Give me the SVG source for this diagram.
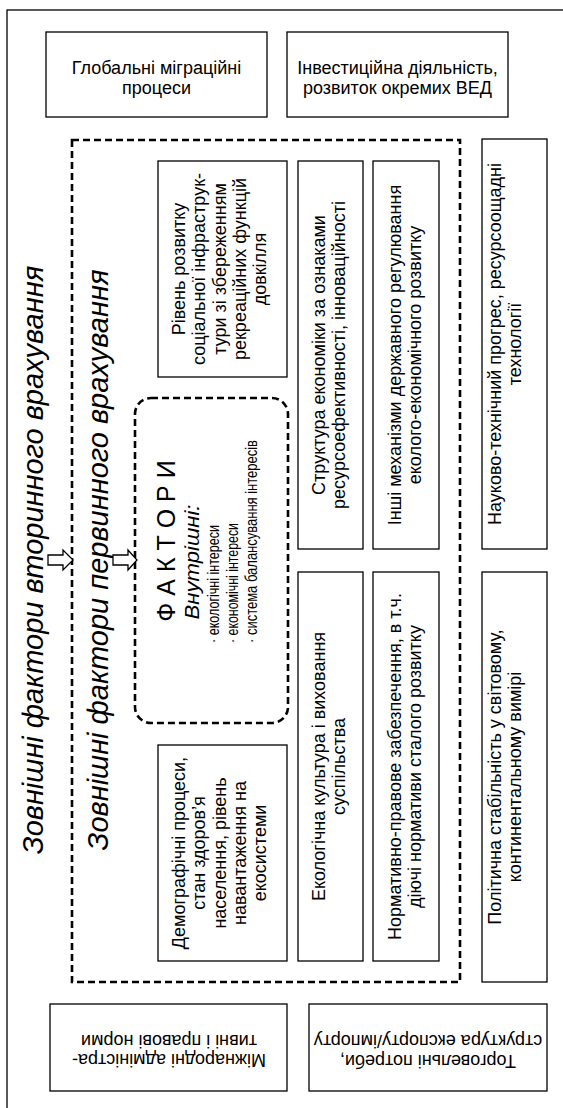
<svg xmlns="http://www.w3.org/2000/svg" width="563" height="1108" viewBox="0 0 563 1108">
<style>
.frame{fill:none;stroke:#000;stroke-width:1.3}
.box{fill:#fff;stroke:#000;stroke-width:1.3}
.dash{fill:none;stroke:#000;stroke-width:2.6;stroke-dasharray:7 4}
.t{font-family:"Liberation Sans",Arial,sans-serif;font-size:18px;fill:#000;text-anchor:middle}
.big{font-family:"Liberation Sans",Arial,sans-serif;font-size:29px;font-style:italic;fill:#000;text-anchor:middle}
.fk{font-family:"Liberation Sans",Arial,sans-serif;font-size:25px;fill:#000;text-anchor:middle}
.vn{font-family:"Liberation Sans Narrow","Liberation Sans",Arial,sans-serif;font-size:21px;font-style:italic;fill:#000;text-anchor:middle}
.bl{font-family:"Liberation Sans Narrow","Liberation Sans",Arial,sans-serif;font-size:17px;fill:#000;text-anchor:start}
.arr{fill:#fff;stroke:#000;stroke-width:1.3}
</style>
<rect width="563" height="1108" fill="#fff"/>
<rect class="frame" x="7" y="10" width="620" height="1200"/>

<g id="title-secondary">
<text class="big" transform="translate(43,560) rotate(-90)">Зовнішні фактори вторинного врахування</text>
</g>
<g id="title-primary">
<rect class="dash" x="72" y="140" width="388" height="842"/>
<text class="big" transform="translate(108,560) rotate(-90)">Зовнішні фактори первинного врахування</text>
</g>

<g id="global-migration">
<rect class="box" x="46" y="32" width="221" height="85"/>
<text class="t" x="156.5" y="74">Глобальні міграційні</text>
<text class="t" x="156.5" y="94">процеси</text>
</g>
<g id="investment">
<rect class="box" x="287" y="32" width="221" height="85"/>
<text class="t" x="397.5" y="74">Інвестиційна діяльність,</text>
<text class="t" x="397.5" y="94">розвиток окремих ВЕД</text>
</g>

<g id="factors">
<rect class="dash" x="135" y="398" width="153" height="325" rx="16"/>
<text class="fk" transform="translate(175,541) rotate(-90)">Ф А К Т О Р И</text>
<text class="vn" transform="translate(199,562) rotate(-90)" textLength="115" lengthAdjust="spacingAndGlyphs">Внутрішні:</text>
<text class="bl" transform="translate(219,643) rotate(-90)" textLength="118" lengthAdjust="spacingAndGlyphs">· екологічні інтереси</text>
<text class="bl" transform="translate(238,643) rotate(-90)" textLength="120" lengthAdjust="spacingAndGlyphs">· економічні інтереси</text>
<text class="bl" transform="translate(257,643) rotate(-90)" textLength="203" lengthAdjust="spacingAndGlyphs">· система балансування інтересів</text>
</g>

<g id="social-infrastructure">
<rect class="box" x="158" y="161" width="129" height="216"/>
<text class="t" transform="translate(185,269) rotate(-90)">Рівень розвитку</text>
<text class="t" transform="translate(205,269) rotate(-90)">соціальної інфраструк-</text>
<text class="t" transform="translate(226,269) rotate(-90)">тури зі збереженням</text>
<text class="t" transform="translate(246,269) rotate(-90)">рекреаційних функцій</text>
<text class="t" transform="translate(266,269) rotate(-90)">довкілля</text>
</g>
<g id="demography">
<rect class="box" x="158" y="745" width="129" height="216"/>
<text class="t" transform="translate(185,853) rotate(-90)">Демографічні процеси,</text>
<text class="t" transform="translate(205,853) rotate(-90)">стан здоров’я</text>
<text class="t" transform="translate(226,853) rotate(-90)">населення, рівень</text>
<text class="t" transform="translate(246,853) rotate(-90)">навантаження на</text>
<text class="t" transform="translate(266,853) rotate(-90)">екосистеми</text>
</g>

<g id="economy-structure">
<rect class="box" x="298" y="161" width="65" height="388"/>
<text class="t" transform="translate(325,355) rotate(-90)">Структура економіки за ознаками</text>
<text class="t" transform="translate(345,355) rotate(-90)">ресурсоефективності, інноваційності</text>
</g>
<g id="eco-culture">
<rect class="box" x="298" y="572" width="65" height="389"/>
<text class="t" transform="translate(325,766.5) rotate(-90)">Екологічна культура і виховання</text>
<text class="t" transform="translate(345,766.5) rotate(-90)">суспільства</text>
</g>
<g id="state-regulation">
<rect class="box" x="373" y="161" width="66" height="388"/>
<text class="t" transform="translate(401,355) rotate(-90)">Інші механізми державного регулювання</text>
<text class="t" transform="translate(421,355) rotate(-90)">еколого-економічного розвитку</text>
</g>
<g id="legal-support">
<rect class="box" x="373" y="572" width="66" height="389"/>
<text class="t" transform="translate(401,766.5) rotate(-90)">Нормативно-правове забезпечення, в т.ч.</text>
<text class="t" transform="translate(421,766.5) rotate(-90)">діючі нормативи сталого розвитку</text>
</g>

<g id="scientific-progress">
<rect class="box" x="482" y="139" width="65" height="410"/>
<text class="t" transform="translate(501,344) rotate(-90)">Науково-технічний прогрес, ресурсоощадні</text>
<text class="t" transform="translate(521,344) rotate(-90)">технології</text>
</g>
<g id="political-stability">
<rect class="box" x="482" y="572" width="65" height="410"/>
<text class="t" transform="translate(501,777) rotate(-90)">Політична стабільність у світовому,</text>
<text class="t" transform="translate(521,777) rotate(-90)">континентальному вимірі</text>
</g>

<g id="international-norms">
<rect class="box" x="50" y="1004" width="237" height="87"/>
<text class="t" transform="translate(169,1054) rotate(180)">Міжнародні адміністра-</text>
<text class="t" transform="translate(169,1035) rotate(180)">тивні і правові норми</text>
</g>
<g id="trade-needs">
<rect class="box" x="309" y="1004" width="238" height="87"/>
<text class="t" transform="translate(428,1055) rotate(180)">Торговельні потреби,</text>
<text class="t" transform="translate(428,1035) rotate(180)">структура експорту/імпорту</text>
</g>

<g id="connectors">
<polygon class="arr" points="48,555 63,555 63,550 73,560 63,570 63,565 48,565"/>
<polygon class="arr" points="113,555 128,555 128,550 137,560 128,570 128,565 113,565"/>
</g>
</svg>
